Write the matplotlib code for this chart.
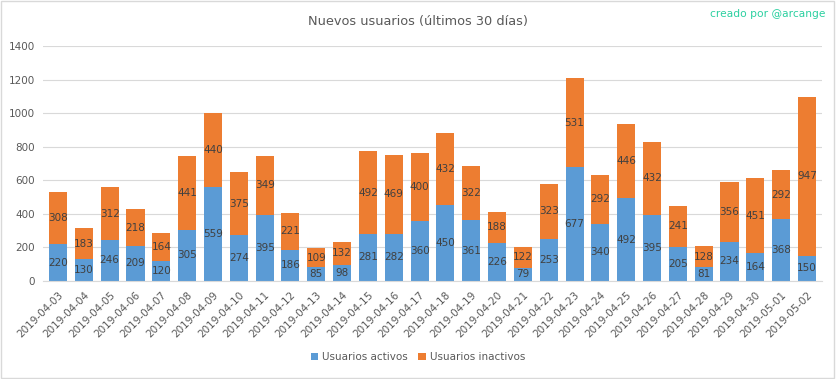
import matplotlib
matplotlib.use("Agg")
import matplotlib.pyplot as plt
import numpy as np

dates = ["2019-04-03","2019-04-04","2019-04-05","2019-04-06","2019-04-07","2019-04-08",
         "2019-04-09","2019-04-10","2019-04-11","2019-04-12","2019-04-13","2019-04-14",
         "2019-04-15","2019-04-16","2019-04-17","2019-04-18","2019-04-19","2019-04-20",
         "2019-04-21","2019-04-22","2019-04-23","2019-04-24","2019-04-25","2019-04-26",
         "2019-04-27","2019-04-28","2019-04-29","2019-04-30","2019-05-01","2019-05-02"]
activos = [220,130,246,209,120,305,559,274,395,186,85,98,281,282,360,450,361,226,79,253,
           677,340,492,395,205,81,234,164,368,150]
inactivos = [308,183,312,218,164,441,440,375,349,221,109,132,492,469,400,432,322,188,122,323,
             531,292,446,432,241,128,356,451,292,947]
yticks = [0,200,400,600,800,1000,1200,1400]

blue = "#5B9BD5"
orange = "#ED7D31"
txt = "#404040"

fig = plt.figure(figsize=(8.36, 3.79), dpi=100)
ax = fig.add_axes([43/836, (379-281)/379, (822-43)/836, (281-46)/379])

x = np.arange(len(dates))
b1 = ax.bar(x, activos, width=0.7, color=blue, zorder=2)
b2 = ax.bar(x, inactivos, width=0.7, bottom=activos, color=orange, zorder=2)
ax.bar_label(b1, labels=[str(v) for v in activos], label_type="center", fontsize=7.5, color=txt)
ax.bar_label(b2, labels=[str(v) for v in inactivos], label_type="center", fontsize=7.5, color=txt)

ax.set_xlim(-0.58, len(dates) - 0.42)
ax.set_ylim(0, 1400)
ax.set_yticks(yticks)
ax.set_yticklabels([str(v) for v in yticks], fontsize=7.5, color="#595959")
ax.set_xticks(x)
ax.set_xticklabels(dates, rotation=45, ha="right", rotation_mode="anchor", fontsize=7.5, color="#595959")
ax.tick_params(axis="both", length=0, pad=6)
ax.grid(axis="y", color="#D9D9D9", linewidth=0.8, zorder=0)
for s in ["top", "right", "left"]:
    ax.spines[s].set_visible(False)
ax.spines["bottom"].set_color("#D9D9D9")

fig.text(418/836, 1 - 21/379, "Nuevos usuarios (últimos 30 días)", ha="center", va="center",
         fontsize=9.3, color="#595959")
fig.text(826/836, 1 - 14/379, "creado por @arcange", ha="right", va="center",
         fontsize=7.7, color="#2BD0A0")

leg = fig.legend(handles=[b1, b2], labels=["Usuarios activos", "Usuarios inactivos"],
                 loc="center", bbox_to_anchor=(418/836, 1 - 357/379), ncol=2, frameon=False,
                 fontsize=7.5, handlelength=0.7, handleheight=0.7, columnspacing=1.0,
                 handletextpad=0.4)
for t in leg.get_texts():
    t.set_color("#595959")

fig.patches.append(plt.Rectangle((0.001, 0.002), 0.997, 0.995, transform=fig.transFigure,
                                 fill=False, edgecolor="#D9D9D9", linewidth=1))

fig.savefig("out.png", dpi=100)
